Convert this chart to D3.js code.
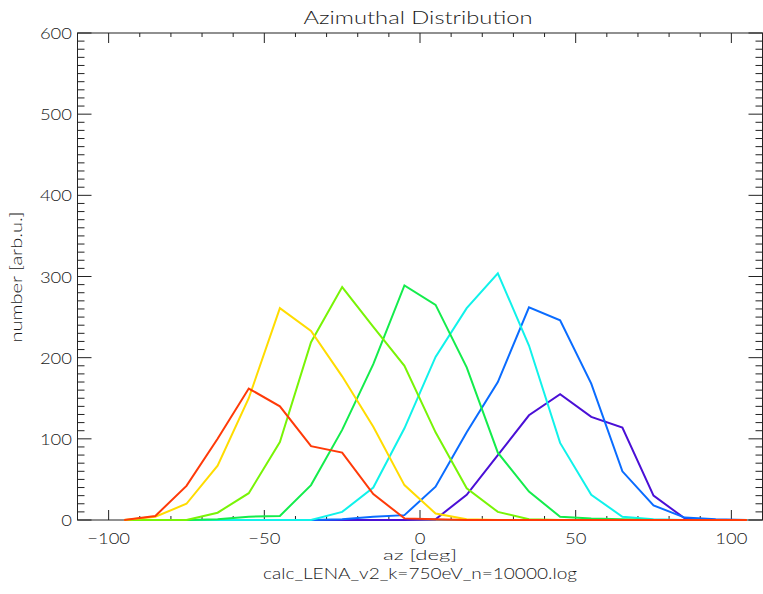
<!DOCTYPE html>
<html>
<head>
<meta charset="utf-8">
<script src="https://cdn.jsdelivr.net/npm/d3@7/dist/d3.min.js"></script>
<style>
  html, body { margin: 0; padding: 0; background: #fff; }
  svg { display: block; }
  text { font-family: Lato, "Open Sans", "DejaVu Sans", sans-serif; font-weight: 300; fill: #1a1a1a; }
</style>
</head>
<body>
<script>
// Azimuth bin centres (deg)
const azBins = [-95, -85, -75, -65, -55, -45, -35, -25, -15, -5, 5, 15, 25, 35, 45, 55, 65, 75, 85, 95, 105];

// Counts per bin, one array per run
const violetCounts = [0, 0, 0, 0, 0, 0, 0, 0, 0, 0, 1, 31, 80, 129, 155, 127, 114, 30, 2, 0, 0];
const blueCounts   = [0, 0, 0, 0, 0, 0, 0, 1, 4, 6, 41, 108, 170, 262, 246, 168, 60, 18, 3, 1, 0];
const cyanCounts   = [0, 0, 0, 0, 0, 0, 0, 10, 40, 113, 201, 261, 304, 215, 95, 31, 4, 1, 0, 0, 0];
const greenCounts  = [0, 0, 0, 1, 4, 5, 43, 111, 192, 289, 265, 188, 83, 35, 4, 2, 1, 0, 0, 0, 0];
const limeCounts   = [0, 0, 0, 9, 33, 96, 219, 287, 238, 190, 108, 39, 10, 1, 0, 0, 0, 0, 0, 0, 0];
const yellowCounts = [0, 4, 20, 67, 150, 261, 233, 177, 115, 43, 8, 1, 0, 0, 0, 0, 0, 0, 0, 0, 0];
const redCounts    = [0, 5, 42, 100, 162, 140, 91, 83, 32, 2, 1, 0, 0, 0, 0, 0, 0, 0, 0, 0, 0];

const seriesList = [violetCounts, blueCounts, cyanCounts, greenCounts, limeCounts, yellowCounts, redCounts];
const seriesColors = ["#4a0fd6", "#0a6cff", "#10f2ea", "#14ec4c", "#78f406", "#ffdc00", "#ff3a08"];

const xTicks = [-100, -50, 0, 50, 100];
const yTicks = [0, 100, 200, 300, 400, 500, 600];

const titleText = "Azimuthal Distribution";
const xTitle = "az [deg]";
const yTitle = "number [arb.u.]";
const fileText = "calc_LENA_v2_k=750eV_n=10000.log";

const W = 763, H = 594;
const plotLeft = 77.5, plotRight = 762.5, plotTop = 33, plotBottom = 520;

const svg = d3.select("body").append("svg").attr("width", W).attr("height", H);

const x = d3.scaleLinear().domain([-110, 110]).range([plotLeft, plotRight]);
const y = d3.scaleLinear().domain([0, 600]).range([plotBottom, plotTop]);

const axisColor = "#222";
const charW = 10.7; // width per glyph of the wide stroke font used for tick labels

// Frame
svg.append("rect")
  .attr("x", plotLeft).attr("y", plotTop)
  .attr("width", plotRight - plotLeft).attr("height", plotBottom - plotTop)
  .attr("fill", "none").attr("stroke", axisColor).attr("stroke-width", 1);

// Tick marks on all four sides (pointing inward)
const xMinor = d3.range(-110, 111, 10);
const yMinor = d3.range(0, 601, 10);
const tickG = svg.append("g").attr("stroke", axisColor).attr("stroke-width", 1);

xMinor.forEach(v => {
  const major = v % 50 === 0;
  const len = major ? 10 : 4;
  tickG.append("line").attr("x1", x(v)).attr("x2", x(v)).attr("y1", plotBottom).attr("y2", plotBottom - len);
  tickG.append("line").attr("x1", x(v)).attr("x2", x(v)).attr("y1", plotTop).attr("y2", plotTop + len);
});
yMinor.forEach(v => {
  const major = v % 100 === 0;
  const len = major ? 14 : 7;
  tickG.append("line").attr("x1", plotLeft).attr("x2", plotLeft + len).attr("y1", y(v)).attr("y2", y(v));
  tickG.append("line").attr("x1", plotRight).attr("x2", plotRight - len).attr("y1", y(v)).attr("y2", y(v));
});

const fmt = d => d < 0 ? "\u2212" + Math.abs(d) : String(d);

// Tick labels
svg.append("g").selectAll("text").data(xTicks).join("text")
  .attr("x", d => x(d)).attr("y", 544)
  .attr("text-anchor", "middle").attr("font-size", 15)
  .attr("textLength", d => fmt(d).length * charW).attr("lengthAdjust", "spacingAndGlyphs")
  .text(fmt);

svg.append("g").selectAll("text").data(yTicks).join("text")
  .attr("x", 72).attr("y", d => y(d) + 6)
  .attr("text-anchor", "end").attr("font-size", 15)
  .attr("textLength", d => fmt(d).length * charW).attr("lengthAdjust", "spacingAndGlyphs")
  .text(fmt);

// Data lines
const line = d3.line().x((d, i) => x(azBins[i])).y(d => y(d));
svg.append("g").selectAll("path").data(seriesList).join("path")
  .attr("d", d => line(d))
  .attr("fill", "none")
  .attr("stroke", (d, i) => seriesColors[i])
  .attr("stroke-width", 2)
  .attr("stroke-linejoin", "miter");

// Titles
svg.append("text").attr("x", 418).attr("y", 24)
  .attr("text-anchor", "middle").attr("font-size", 18)
  .attr("textLength", 229).attr("lengthAdjust", "spacingAndGlyphs")
  .text(titleText);

svg.append("text").attr("x", 420).attr("y", 560)
  .attr("text-anchor", "middle").attr("font-size", 14)
  .attr("textLength", 74).attr("lengthAdjust", "spacingAndGlyphs")
  .text(xTitle);

svg.append("text").attr("x", 420).attr("y", 579)
  .attr("text-anchor", "middle").attr("font-size", 15)
  .attr("textLength", 314).attr("lengthAdjust", "spacingAndGlyphs")
  .text(fileText);

svg.append("text")
  .attr("transform", "translate(22,277) rotate(-90)")
  .attr("text-anchor", "middle").attr("font-size", 16)
  .attr("textLength", 131).attr("lengthAdjust", "spacingAndGlyphs")
  .text(yTitle);
</script>
</body>
</html>
